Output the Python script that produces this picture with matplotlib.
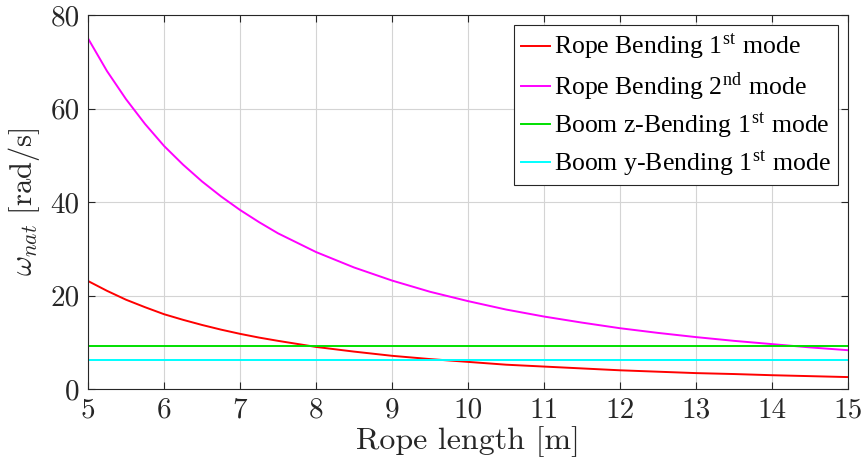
import matplotlib
matplotlib.use("Agg")
import matplotlib.pyplot as plt
import numpy as np

plt.rcParams['font.family'] = ['Liberation Serif', 'DejaVu Serif']
plt.rcParams['mathtext.fontset'] = 'cm'
plt.rcParams['axes.formatter.use_mathtext'] = True

rope_length = [5, 5.25, 5.5, 5.75, 6, 6.25, 6.5, 6.75, 7, 7.25, 7.5, 8, 8.5, 9, 9.5, 10, 10.5,
               11, 11.5, 12, 12.5, 13, 13.5, 14, 14.5, 15]
rope_mode1 = [23.1, 21.0, 19.1, 17.5, 16.0, 14.8, 13.7, 12.7, 11.8, 11.0, 10.3, 9.0, 8.0, 7.1, 6.4,
              5.8, 5.2, 4.8, 4.4, 4.0, 3.7, 3.4, 3.2, 2.95, 2.75, 2.55]
rope_mode2 = [75.0, 68.0, 62.0, 56.7, 52.0, 48.0, 44.4, 41.2, 38.3, 35.7, 33.3, 29.3, 26.0, 23.2, 20.8,
              18.8, 17.0, 15.5, 14.2, 13.0, 12.0, 11.1, 10.3, 9.6, 8.9, 8.3]
boom_z = [9.25] * len(rope_length)
boom_y = [6.2] * len(rope_length)

series_labels = ['Rope Bending 1$^{\\mathregular{st}}$ mode',
                 'Rope Bending 2$^{\\mathregular{nd}}$ mode',
                 'Boom z-Bending 1$^{\\mathregular{st}}$ mode',
                 'Boom y-Bending 1$^{\\mathregular{st}}$ mode']
colors = ['#ff0000', '#ff00ff', '#00e000', '#00ffff']

fig = plt.figure(figsize=(8.67, 4.70), dpi=100)
ax = fig.add_axes([88/867, 1 - 389/470, (848 - 88)/867, (389 - 15)/470])

for y, lab, c in zip([rope_mode1, rope_mode2, boom_z, boom_y], series_labels, colors):
    ax.plot(rope_length, y, color=c, lw=1.4, label=lab)

ax.set_xlim(5, 15)
ax.set_ylim(0, 80)
ax.set_xticks(np.arange(5, 16, 1))
ax.set_yticks([0, 20, 40, 60, 80])
ax.set_xticklabels([str(v) for v in range(5, 16)])
ax.set_yticklabels(['0', '20', '40', '60', '80'])
ax.grid(True, color='#d4d4d4', lw=0.8)
ax.set_axisbelow(True)
ax.tick_params(direction='in', top=True, right=True, labelsize=21, length=5, color='#262626', pad=6)
for t in ax.get_xticklabels() + ax.get_yticklabels():
    t.set_family('cmr10')
    t.set_color('#262626')
for s in ax.spines.values():
    s.set_color('#262626')
    s.set_linewidth(0.8)

ax.set_xlabel('Rope length [m]', fontsize=23, color='#262626', labelpad=2, family='cmr10')
ax.set_ylabel(r'$\omega_{nat}\ \mathrm{[rad/s]}$', fontsize=22, color='#262626', labelpad=6)

leg = ax.legend(loc='upper right', fontsize=18.5, frameon=True, fancybox=False,
                edgecolor='#262626', framealpha=1, handlelength=1.15, handletextpad=0.15,
                borderaxespad=0.4, labelspacing=0.3, borderpad=0.25)
leg.get_frame().set_linewidth(0.8)

fig.savefig('out.png', dpi=100)
